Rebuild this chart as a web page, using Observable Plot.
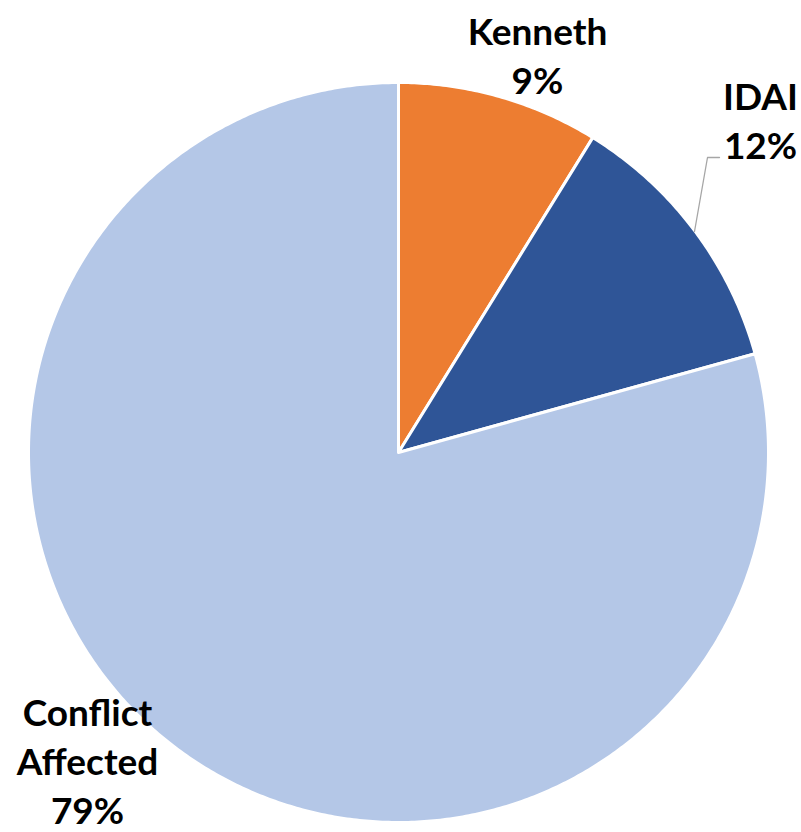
<!DOCTYPE html>
<html>
<head>
<meta charset="utf-8">
<script src="https://cdn.jsdelivr.net/npm/d3@7"></script>
<script src="https://cdn.jsdelivr.net/npm/@observablehq/plot@0.6"></script>
<style>
  html, body { margin: 0; padding: 0; background: #fff; }
</style>
</head>
<body>
<div id="chart"></div>
<script>
// ---- data ----
const categories = ["Kenneth", "IDAI", "Conflict Affected"];
const values = [8.8, 11.9, 79.3];
const colors = ["#ED7D31", "#2F5597", "#B4C7E7"];
const labelNames = ["Kenneth", "IDAI", "Conflict\nAffected"];

// ---- layout ----
const W = 801, H = 832;
const cx = 398, cy = 452, R = 370;
const labelPos = [[537, 53], [760, 118], [87, 759]];
const leader = [[719, 157], [707, 157], [694, 231]];

const total = d3.sum(values);
const pie = d3.pie().sort(null).value(d => d)(values);

// polygon points for each slice, computed from pie angles
const slicePts = [];
pie.forEach((p, i) => {
  slicePts.push({name: categories[i], x: cx, y: cy});
  const n = Math.max(2, Math.ceil((p.endAngle - p.startAngle) / (Math.PI / 360)));
  for (let k = 0; k <= n; k++) {
    const a = p.startAngle + (p.endAngle - p.startAngle) * k / n;
    slicePts.push({name: categories[i], x: cx + R * Math.sin(a), y: cy - R * Math.cos(a)});
  }
});

const labels = categories.map((c, i) => ({
  text: labelNames[i] + "\n" + Math.round(values[i] / total * 100) + "%",
  x: labelPos[i][0], y: labelPos[i][1]
}));
const leaderPts = leader.map(([x, y]) => ({x, y}));

const chart = Plot.plot({
  width: W, height: H,
  margin: 0,
  x: {domain: [0, W], range: [0, W], axis: null},
  y: {domain: [0, H], range: [0, H], axis: null},
  color: {domain: categories, range: colors},
  marks: [
    Plot.line(slicePts, {
      x: "x", y: "y", z: "name", fill: "name",
      stroke: "white", strokeWidth: 3, strokeLinejoin: "round",
      curve: "linear-closed"
    }),
    Plot.line(leaderPts, {x: "x", y: "y", stroke: "#A6A6A6", strokeWidth: 1.3}),
    Plot.text(labels, {
      x: "x", y: "y", text: "text",
      fontSize: 37, fontWeight: "bold", fontFamily: "Lato, 'Open Sans', sans-serif",
      fill: "#000", lineHeight: 1.33, textAnchor: "middle", lineAnchor: "middle"
    })
  ]
});
document.getElementById("chart").appendChild(chart);
</script>
</body>
</html>
